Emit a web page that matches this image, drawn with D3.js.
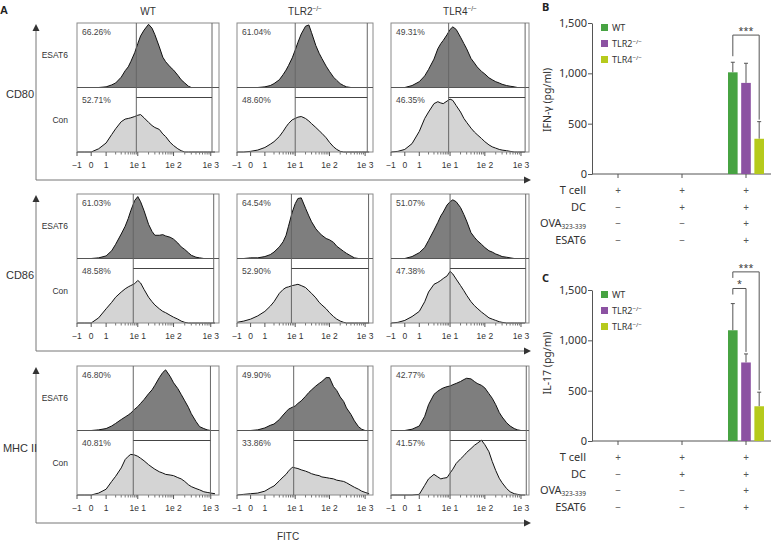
<!DOCTYPE html>
<html><head><meta charset="utf-8">
<script src="https://cdn.jsdelivr.net/npm/d3@7"></script>
<style>body{margin:0;background:#fff}svg{display:block}</style>
</head><body>
<svg id="c" width="772" height="542"></svg>
<script>
// ---------------- DATA ----------------
const genotypes = ["WT", "TLR2", "TLR4"];
const genotypeSup = ["", "−/−", "−/−"];
const markers = ["CD80", "CD86", "MHC II"];
const conditionsA = ["ESAT6", "Con"];
const fitcBins = [-1, -0.5, 0, 0.5, 1, 1.5, 2, 3, 4, 5, 6, 8, 10, 12, 15, 20, 25, 30, 40, 50, 60, 80, 100, 130, 160, 200, 250, 300, 400, 500, 650, 800, 1000, 1300];
const fitcTicks = [-1, 0, 1, 10, 100, 1000];
const fitcTickLabels = ["−1", "0", "1", "1e 1", "1e 2", "1e 3"];
const fitcMinor = [2,3,4,5,6,7,8,9,20,30,40,50,60,70,80,90,200,300,400,500,600,700,800,900];

// histogram heights (% of half-panel), per marker/genotype/condition
const CD80_WT_ESAT6   = [0,0,0,0,1,4,7,16,26,32,40,54,68,80,89,98,92,82,63,47,40,32,27,19,12,7,2,0,0,0,0,0,0,0];
const CD80_WT_Con     = [0,0,0,5,14,27,36,47,51,52,53,55,57,58,53,46,41,38,35,28,24,15,10,5,2,0,0,0,0,0,0,0,0,0];
const CD80_TLR2_ESAT6 = [0,0,0,0,1,3,6,12,20,27,34,46,58,70,83,95,97,85,65,53,45,33,25,16,11,6,3,1,0,0,0,0,0,0];
const CD80_TLR2_Con   = [0,0,1,3,7,12,16,24,32,39,44,50,52,54,55,52,48,44,38,33,29,22,15,8,4,1,0,0,0,0,0,0,0,0];
const CD80_TLR4_ESAT6 = [0,0,0,3,9,18,28,44,60,68,73,82,90,94,90,78,68,60,45,38,32,25,21,15,12,9,7,5,3,2,1,0,0,0];
const CD80_TLR4_Con   = [0,1,4,13,32,52,62,75,78,76,75,79,82,80,72,62,52,46,37,31,27,21,16,11,8,6,4,3,2,1,0,0,0,0];
const CD86_WT_ESAT6   = [0,0,0,1,4,12,22,38,50,62,74,90,96,88,74,53,42,36,36,37,35,33,30,24,18,14,9,5,2,1,0,0,0,0];
const CD86_WT_Con     = [0,0,0,8,22,32,40,48,53,56,58,61,66,62,52,40,33,28,22,18,16,12,9,6,3,1,0,0,0,0,0,0,0,0];
const CD86_TLR2_ESAT6 = [0,0,1,1,3,6,10,18,26,36,50,72,85,93,94,78,66,57,46,40,36,31,29,25,19,15,11,8,4,1,0,0,0,0];
const CD86_TLR2_Con   = [1,3,6,11,18,26,33,46,52,55,56,58,59,60,58,55,50,46,39,32,28,22,16,10,6,3,1,0,0,0,0,0,0,0];
const CD86_TLR4_ESAT6 = [0,0,0,3,9,17,28,44,56,66,72,83,88,91,88,79,68,58,40,33,28,22,17,12,10,7,5,3,2,1,0,0,0,0];
const CD86_TLR4_Con   = [0,1,4,10,18,33,48,60,63,66,69,73,80,76,68,58,50,43,33,27,23,17,13,8,6,4,2,1,0,0,0,0,0,0];
const MHC_WT_ESAT6    = [0,0,0,1,3,7,11,17,21,24,27,33,37,42,48,57,63,70,82,90,94,84,74,65,56,46,36,26,14,6,3,1,0,0];
const MHC_WT_Con      = [0,0,0,3,9,21,29,42,55,60,63,62,60,57,53,47,43,40,36,34,32,31,30,27,25,21,16,13,10,8,5,4,3,2];
const MHC_TLR2_ESAT6  = [0,0,0,1,4,8,10,17,24,29,33,36,38,42,46,53,59,63,69,73,76,82,82,68,62,52,45,35,25,15,6,2,0,0];
const MHC_TLR2_Con    = [0,1,2,3,6,11,14,22,28,32,37,43,42,41,39,37,35,33,31,30,28,27,26,25,23,22,21,19,15,12,9,6,4,2];
const MHC_TLR4_ESAT6  = [0,0,0,2,7,22,40,56,61,64,66,68,69,71,73,76,79,81,80,76,73,70,66,57,50,40,28,21,12,7,3,1,0,0];
const MHC_TLR4_Con    = [0,0,0,0,1,15,25,32,28,25,26,27,34,40,49,56,61,66,72,77,80,85,78,67,52,38,26,19,10,5,2,1,0,0];

const histESAT6 = [[CD80_WT_ESAT6, CD80_TLR2_ESAT6, CD80_TLR4_ESAT6],[CD86_WT_ESAT6, CD86_TLR2_ESAT6, CD86_TLR4_ESAT6],[MHC_WT_ESAT6, MHC_TLR2_ESAT6, MHC_TLR4_ESAT6]];
const histCon   = [[CD80_WT_Con, CD80_TLR2_Con, CD80_TLR4_Con],[CD86_WT_Con, CD86_TLR2_Con, CD86_TLR4_Con],[MHC_WT_Con, MHC_TLR2_Con, MHC_TLR4_Con]];

const pctESAT6 = [["66.26%","61.04%","49.31%"],["61.03%","64.54%","51.07%"],["46.80%","49.90%","42.77%"]];
const pctCon   = [["52.71%","48.60%","46.35%"],["48.58%","52.90%","47.38%"],["40.81%","33.86%","41.57%"]];
const gateLow  = [[9, 10, 9],[7.2, 7.5, 10],[7.2, 8.9, 10]];
const gateHigh = [[1080, 1150, 1300],[1200, 1250, 1350],[980, 1200, 1400]];

// cytokine bars
const cytoConditions = ["g1", "g2", "g3"];
const tableRowLabels = ["T cell", "DC", "OVA", "ESAT6"];
const tableSigns = [["+","+","+"],["−","+","+"],["−","−","+"],["−","−","+"]];
const ifngWT = [0, 0, 1010], ifngTLR2 = [0, 0, 905], ifngTLR4 = [0, 0, 350];
const ifngErrWT = [0, 0, 100], ifngErrTLR2 = [0, 0, 195], ifngErrTLR4 = [0, 0, 170];
const il17WT = [0, 0, 1100], il17TLR2 = [0, 0, 780], il17TLR4 = [0, 0, 345];
const il17ErrWT = [0, 0, 265], il17ErrTLR2 = [0, 0, 85], il17ErrTLR4 = [0, 0, 140];
const cytoTicks = [0, 500, 1000, 1500];
const barColors = ["#47a342", "#8c52a2", "#b6ca1c"];

// ---------------- LAYOUT ----------------
const FONT = "'Noto Sans', 'Liberation Sans', sans-serif";
const FONTA = "'Liberation Sans', Arial, sans-serif";
const svg = d3.select("#c").attr("font-family", FONT);
const colX0 = [77, 237, 391], colW = [142, 136, 138];
const rowTop = [23, 194, 366], halfH = 64.5;
const tickFrac = [0, 0.1, 0.205, 0.428, 0.68, 0.942];
const rowLabelY = [98, 279, 452];
const tf = v => v <= 1 ? v : 1 + Math.log10(v);
function xScale(c) {
  const s = d3.scaleLinear().domain([-1, 0, 1, 2, 3, 4]).range(tickFrac.map(f => colX0[c] + f * colW[c]));
  return v => Math.min(colX0[c] + colW[c], s(tf(v)));
}

const A = svg.append("g").attr("font-family", FONTA);
// panel letter
A.append("text").attr("x", 0).attr("y", 14).attr("font-size", 11).attr("font-weight", "bold").attr("fill", "#222").text("A");

// column titles
genotypes.forEach((gname, c) => {
  const t = A.append("text").attr("x", colX0[c] + colW[c] / 2).attr("y", 15)
    .attr("text-anchor", "middle").attr("font-size", 10).attr("fill", "#333");
  t.append("tspan").text(gname);
  if (genotypeSup[c]) t.append("tspan").attr("dy", -4).attr("font-size", 6.5).text(genotypeSup[c]);
});

markers.forEach((m, r) => {
  const top = rowTop[r], mid = top + halfH, bot = top + 2 * halfH;
  const axY = bot + 28;
  // big axes with arrows
  A.append("line").attr("x1", 36).attr("x2", 36).attr("y1", top + 6).attr("y2", axY).attr("stroke", "#777").attr("stroke-width", 1);
  A.append("line").attr("x1", 36).attr("x2", 526).attr("y1", axY).attr("y2", axY).attr("stroke", "#777").attr("stroke-width", 1);
  A.append("path").attr("d", `M36,${top + 1}L32.5,${top + 8}L39.5,${top + 8}Z`).attr("fill", "#333");
  A.append("path").attr("d", `M531,${axY}L524,${axY - 3.5}L524,${axY + 3.5}Z`).attr("fill", "#333");
  A.append("text").attr("x", 20).attr("y", rowLabelY[r]).attr("text-anchor", "middle").attr("font-size", 11).attr("fill", "#333").text(m);
  A.append("text").attr("x", 68).attr("y", top + 35).attr("text-anchor", "end").attr("font-size", 8.5).attr("fill", "#333").text(conditionsA[0]);
  A.append("text").attr("x", 68).attr("y", mid + 35).attr("text-anchor", "end").attr("font-size", 8.5).attr("fill", "#333").text(conditionsA[1]);

  genotypes.forEach((gname, c) => {
    const x = xScale(c), x0 = colX0[c], w = colW[c];
    const g = A.append("g");
    const yE = d3.scaleLinear().domain([0, 100]).range([mid, top]);
    const yC = d3.scaleLinear().domain([0, 100]).range([bot, mid]);
    [[histESAT6[r][c], yE, "#7e7e7e"], [histCon[r][c], yC, "#d4d4d4"]].forEach(([vals, y, fill]) => {
      const pts = fitcBins.map((b, i) => [b, vals[i]]);
      g.append("path").datum(pts).attr("fill", fill)
        .attr("d", d3.area().x(d => x(d[0])).y0(y(0)).y1(d => y(d[1])));
      g.append("path").datum(pts).attr("fill", "none").attr("stroke", "#111").attr("stroke-width", 1)
        .attr("d", d3.line().x(d => x(d[0])).y(d => y(d[1])));
    });
    // box
    g.append("rect").attr("x", x0).attr("y", top).attr("width", w).attr("height", 2 * halfH)
      .attr("fill", "none").attr("stroke", "#8a8a8a").attr("stroke-width", 1);
    g.append("line").attr("x1", x0).attr("x2", x0 + w).attr("y1", mid).attr("y2", mid).attr("stroke", "#555").attr("stroke-width", 1);
    // gates
    const gl = x(gateLow[r][c]), gh = x(gateHigh[r][c]);
    g.append("line").attr("x1", gl).attr("x2", gl).attr("y1", top).attr("y2", bot).attr("stroke", "#666").attr("stroke-width", 1);
    g.append("line").attr("x1", gh).attr("x2", gh).attr("y1", top).attr("y2", bot).attr("stroke", "#666").attr("stroke-width", 1);
    g.append("line").attr("x1", gl).attr("x2", gh).attr("y1", mid + 10).attr("y2", mid + 10).attr("stroke", "#444").attr("stroke-width", 1);
    // percent labels
    g.append("text").attr("x", x0 + 5).attr("y", top + 12).attr("font-size", 8.5).attr("fill", "#444").text(pctESAT6[r][c]);
    g.append("text").attr("x", x0 + 5).attr("y", mid + 15).attr("font-size", 8.5).attr("fill", "#444").text(pctCon[r][c]);
    // x ticks
    fitcTicks.forEach((t, i) => {
      g.append("line").attr("x1", x(t)).attr("x2", x(t)).attr("y1", bot).attr("y2", bot + 4).attr("stroke", "#555");
      g.append("text").attr("x", x(t)).attr("y", bot + 16).attr("text-anchor", "middle").attr("font-size", 8.5).attr("fill", "#333").text(fitcTickLabels[i]);
    });
    fitcMinor.forEach(t => {
      g.append("line").attr("x1", x(t)).attr("x2", x(t)).attr("y1", bot).attr("y2", bot + 2.5).attr("stroke", "#777");
    });
  });
});
A.append("text").attr("x", 288).attr("y", 540).attr("text-anchor", "middle").attr("font-size", 10).attr("fill", "#333").text("FITC");

// ---------------- BAR PANELS ----------------
function drawCyto(cfg) {
  const y = d3.scaleLinear().domain([0, 1500]).range([cfg.base, cfg.top]);
  const xc = d3.scalePoint().domain(cytoConditions).range([618, 746]);
  const xs = d3.scaleBand().domain(genotypes).range([-18, 18]).paddingInner(0.27);
  const g = svg.append("g");
  g.append("text").attr("x", 542).attr("y", cfg.letterY).attr("font-size", 11).attr("font-weight", "bold").attr("fill", "#222").text(cfg.letter);
  // y axis
  const ax = g.append("g").attr("transform", "translate(592,0)")
    .call(d3.axisLeft(y).tickValues(cytoTicks).tickFormat(d3.format(",")).tickSize(4).tickSizeOuter(0));
  ax.select(".domain").attr("stroke", "#555");
  ax.selectAll(".tick line").attr("stroke", "#555");
  ax.selectAll(".tick text").attr("font-family", FONT).attr("font-size", 11).attr("fill", "#333").attr("x", -5);
  // x axis
  g.append("line").attr("x1", 592).attr("x2", 771).attr("y1", cfg.base).attr("y2", cfg.base).attr("stroke", "#555");
  cytoConditions.forEach(k => g.append("line").attr("x1", xc(k)).attr("x2", xc(k)).attr("y1", cfg.base).attr("y2", cfg.base + 4).attr("stroke", "#555"));
  // y label
  g.append("text").attr("transform", `translate(551,${cfg.labelY}) rotate(-90)`).attr("text-anchor", "middle")
    .attr("font-size", 10.5).attr("fill", "#333").text(cfg.ylabel);
  // bars
  cfg.series.forEach((s, si) => {
    cytoConditions.forEach((k, ci) => {
      const v = s.vals[ci], e = s.errs[ci];
      if (!v) return;
      const cx = xc(k) + xs(genotypes[si]) + xs.bandwidth() / 2;
      g.append("line").attr("x1", cx).attr("x2", cx).attr("y1", y(v)).attr("y2", y(v + e)).attr("stroke", "#555");
      g.append("line").attr("x1", cx - 2).attr("x2", cx + 2).attr("y1", y(v + e)).attr("y2", y(v + e)).attr("stroke", "#555");
      g.append("rect").attr("x", xc(k) + xs(genotypes[si])).attr("width", xs.bandwidth())
        .attr("y", y(v)).attr("height", y(0) - y(v)).attr("fill", barColors[si]);
    });
  });
  // brackets
  cfg.brackets.forEach(b => {
    const ci = 2;
    const xa = xc(cytoConditions[ci]) + xs(genotypes[b.from]) + xs.bandwidth() / 2;
    const xb = xc(cytoConditions[ci]) + xs(genotypes[b.to]) + xs.bandwidth() / 2;
    const yt = y(b.level);
    const ya = y(b.leftEnd);
    const sb = cfg.series[b.to];
    const yb = y(sb.vals[ci] + sb.errs[ci]) - 2;
    g.append("path").attr("d", `M${xa},${ya}V${yt}H${xb}V${yb}`).attr("fill", "none").attr("stroke", "#555");
    g.append("text").attr("x", (xa + xb) / 2).attr("y", yt - 1).attr("text-anchor", "middle").attr("font-size", 9).attr("fill", "#333").text(b.text);
  });
  // legend
  genotypes.forEach((gname, i) => {
    const ly = cfg.top + 1 + i * 16;
    g.append("rect").attr("x", 601).attr("y", ly).attr("width", 7).attr("height", 7).attr("fill", barColors[i]);
    const t = g.append("text").attr("x", 612).attr("y", ly + 7).attr("font-size", 9).attr("fill", "#333");
    t.append("tspan").text(gname);
    if (genotypeSup[i]) t.append("tspan").attr("dy", -3.5).attr("font-size", 6).text(genotypeSup[i]);
  });
  // table
  tableRowLabels.forEach((lab, ri) => {
    const ty = cfg.tableY[ri];
    const t = g.append("text").attr("x", 586).attr("y", ty).attr("text-anchor", "end").attr("font-size", 11).attr("fill", "#333");
    t.append("tspan").text(lab);
    if (lab === "OVA") t.append("tspan").attr("dy", 2).attr("font-size", 6.5).text("323-339");
    cytoConditions.forEach((k, ci) => {
      g.append("text").attr("x", xc(k)).attr("y", ty).attr("text-anchor", "middle").attr("font-size", 10).attr("fill", "#555").text(tableSigns[ri][ci]);
    });
  });
}

drawCyto({
  letter: "B", letterY: 11, top: 23, base: 174, labelY: 100, ylabel: "IFN-γ (pg/ml)",
  series: [{vals: ifngWT, errs: ifngErrWT}, {vals: ifngTLR2, errs: ifngErrTLR2}, {vals: ifngTLR4, errs: ifngErrTLR4}],
  brackets: [{from: 0, to: 2, level: 1380, leftEnd: 1170, text: "***"}],
  tableY: [194, 211, 227, 244]
});
drawCyto({
  letter: "C", letterY: 282, top: 290, base: 441, labelY: 363, ylabel: "IL-17 (pg/ml)",
  series: [{vals: il17WT, errs: il17ErrWT}, {vals: il17TLR2, errs: il17ErrTLR2}, {vals: il17TLR4, errs: il17ErrTLR4}],
  brackets: [{from: 0, to: 1, level: 1515, leftEnd: 1455, text: "*"}, {from: 0, to: 2, level: 1680, leftEnd: 1620, text: "***"}],
  tableY: [461, 478, 494, 511]
});
</script>
</body></html>
